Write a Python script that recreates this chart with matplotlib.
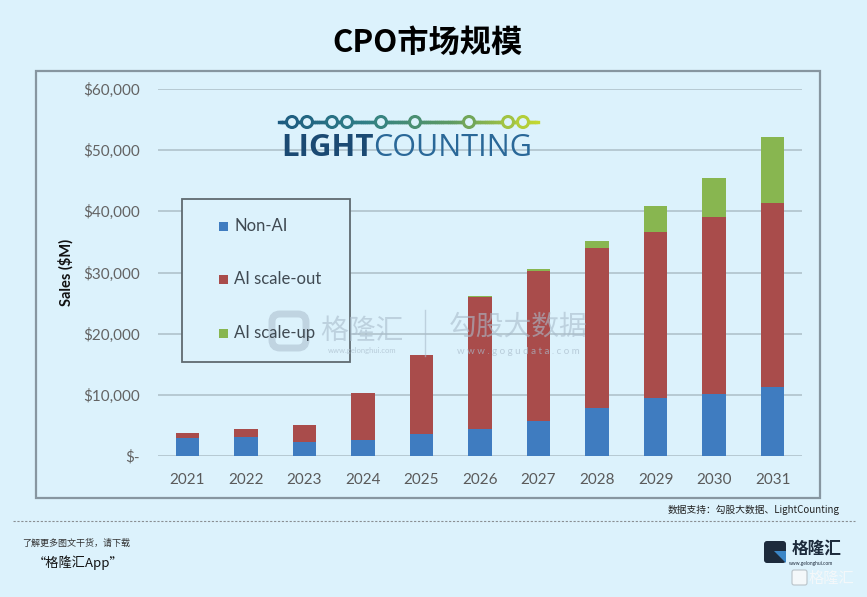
import numpy as np
import matplotlib
matplotlib.use("Agg")
import matplotlib.pyplot as plt
from matplotlib.patches import Rectangle, Circle, FancyBboxPatch, Polygon
from matplotlib.colors import LinearSegmentedColormap
from matplotlib.collections import LineCollection

# ── data (values in $M) ─────────────────────────────────────────────────────────
years      = ["2021", "2022", "2023", "2024", "2025", "2026",
              "2027", "2028", "2029", "2030", "2031"]
non_ai     = [2900, 3150, 2350, 2600, 3550, 4350, 5800, 7850, 9450, 10150, 11200]
scale_out  = [800, 1200, 2650, 7750, 12950, 21700, 24500, 26100, 27150, 28850, 30200]
scale_up   = [0, 0, 0, 0, 0, 100, 250, 1250, 4300, 6400, 10800]
series     = ["Non-AI", "AI scale-out", "AI scale-up"]
yticks     = [0, 10000, 20000, 30000, 40000, 50000, 60000]
ytick_lbls = ["$-", "$10,000", "$20,000", "$30,000", "$40,000", "$50,000", "$60,000"]

BG    = "#dcf2fc"
C_BLU = "#3f7cc0"
C_RED = "#a94c4b"
C_GRN = "#88b650"
CJK   = ["Noto Sans CJK SC", "DejaVu Sans"]
LAT   = ["Lato", "DejaVu Sans"]
OPS   = ["Open Sans", "DejaVu Sans"]

W, H = 867, 597
fig = plt.figure(figsize=(W / 100, H / 100), dpi=100, facecolor=BG)

# ── main bar chart ──────────────────────────────────────────────────────────────
ax = fig.add_axes([158 / W, 1 - 456 / H, 644 / W, 367 / H])
ax.set_facecolor("none")
x = np.arange(len(years))
bw = 0.40
b1 = np.array(non_ai)
b2 = b1 + np.array(scale_out)
ax.bar(x, non_ai, bw, color=C_BLU, zorder=3)
ax.bar(x, scale_out, bw, bottom=b1, color=C_RED, zorder=3)
ax.bar(x, scale_up, bw, bottom=b2, color=C_GRN, zorder=3)

ax.set_xlim(-0.5, len(years) - 0.5)
ax.set_ylim(0, 60000)
ax.set_yticks(yticks)
ax.set_yticklabels(ytick_lbls, family=LAT, fontsize=11, color="#636363")
ax.set_xticks(x)
ax.set_xticklabels(years, family=LAT, fontsize=11, color="#5a5a5a")
ax.tick_params(axis="y", length=0, pad=13)
ax.tick_params(axis="x", length=0, pad=12)
ax.yaxis.grid(True, color="#b4c6cf", lw=1.3, zorder=0)
for s in ax.spines.values():
    s.set_visible(False)
ax.set_ylabel("Sales ($M)", family=LAT, fontsize=10.5, fontweight="bold",
              color="#111111", labelpad=7)

# ── overlay in pixel coordinates for frame, legend, logos, footer ──────────────
ov = fig.add_axes([0, 0, 1, 1], zorder=5)
ov.set_xlim(0, W)
ov.set_ylim(H, 0)
ov.axis("off")
ov.patch.set_visible(False)

ov.add_patch(Rectangle((36, 71), 784, 427, fill=False, ec="#8796a0", lw=1.6))

# title
ov.text(427, 43, "CPO市场规模", family=CJK, fontsize=22.5, fontweight="bold",
        ha="center", va="center", color="#000000")

# legend box
ov.add_patch(Rectangle((182, 199), 168, 163, fc=BG, ec="#5f6a70", lw=1.3))
for i, (lab, col) in enumerate(zip(series, [C_BLU, C_RED, C_GRN])):
    yy = 226 + i * 53.5
    ov.add_patch(Rectangle((219, yy - 4.5), 9, 9, fc=col, ec="none"))
    ov.text(234, yy, lab, family=LAT, fontsize=12, color="#404a52", va="center")

# LightCounting logo
cmap = LinearSegmentedColormap.from_list("lc", ["#1c5a80", "#2f7f86", "#5d9a63", "#c4d832"])
xs = np.linspace(279, 538, 120)
segs = [[(a, 122), (b, 122)] for a, b in zip(xs[:-1], xs[1:])]
ov.add_collection(LineCollection(segs, colors=[cmap((a - 279) / 259) for a in xs[:-1]],
                                 linewidths=2.4, capstyle="projecting"))
for cx in [292, 307, 332, 347, 381, 415, 469, 508, 523]:
    ov.add_patch(Circle((cx, 122), 5.5, fc=BG, ec=cmap((cx - 279) / 259), lw=2.2,
                        zorder=3))
t_light = ov.text(281, 148, "LIGHT", family=OPS, fontsize=22.5, fontweight="bold",
                  color="#1b4a73", va="center", ha="left")
fig.canvas.draw()
bb = t_light.get_window_extent()
x_end = bb.x1 * W / fig.bbox.width
ov.text(x_end, 148, "COUNTING", family=OPS, fontsize=22, color="#2a6898",
        va="center", ha="left")

# watermarks
wm = "#a9bccb"
ov.add_patch(FancyBboxPatch((272, 314), 34, 34, boxstyle="round,pad=0,rounding_size=8",
                            fc="none", ec=wm, lw=5, alpha=0.55))
ov.text(362, 331, "格隆汇", family=CJK, fontsize=20, color=wm, alpha=0.6,
        ha="center", va="center")
ov.text(362, 351, "www.gelonghui.com", family=LAT, fontsize=5.5, color=wm, alpha=0.7,
        ha="center", va="center")
ov.plot([425, 425], [310, 356], color=wm, lw=1, alpha=0.6)
ov.text(518, 327, "勾股大数据", family=CJK, fontsize=20, color=wm, alpha=0.6,
        ha="center", va="center")
ov.text(518, 351, "w w w . g o g u d a t a . c o m", family=LAT, fontsize=7,
        color=wm, alpha=0.7, ha="center", va="center")

# footer
ov.text(840, 510, "数据支持：勾股大数据、LightCounting", family=CJK, fontsize=7,
        color="#222222", ha="right", va="center")
ov.plot([13, 855], [521, 521], color="#8a8f93", lw=0.8, ls=(0, (2, 1.5)))
ov.text(22, 543, "了解更多图文干货，请下载", family=CJK, fontsize=6.5,
        color="#333333", va="center")
ov.text(33, 563, "“格隆汇App”", family=CJK, fontsize=9.5, color="#111111",
        va="center")

# bottom-right brand
ov.add_patch(FancyBboxPatch((764, 541), 22, 22, boxstyle="round,pad=0,rounding_size=3",
                            fc="#1d2b3c", ec="none"))
ov.add_patch(Polygon([(774, 551), (786, 551), (786, 563)], closed=True,
                     fc="#3b86c6", ec="none"))
ov.text(792, 549, "格隆汇", family=CJK, fontsize=12, fontweight="bold",
        color="#1d2b3c", va="center")
ov.text(811, 564, "www.gelonghui.com", family=LAT, fontsize=3.5, color="#1d2b3c",
        ha="center", va="center")
ov.add_patch(FancyBboxPatch((792, 570), 15, 15, boxstyle="round,pad=0,rounding_size=2",
                            fc="#f4f8fa", ec="#b9c3c9", lw=0.8))
ov.text(809, 578, "格隆汇", family=CJK, fontsize=11, color="#f4f8fa",
        va="center")

fig.savefig("out.png", dpi=100, facecolor=BG)
